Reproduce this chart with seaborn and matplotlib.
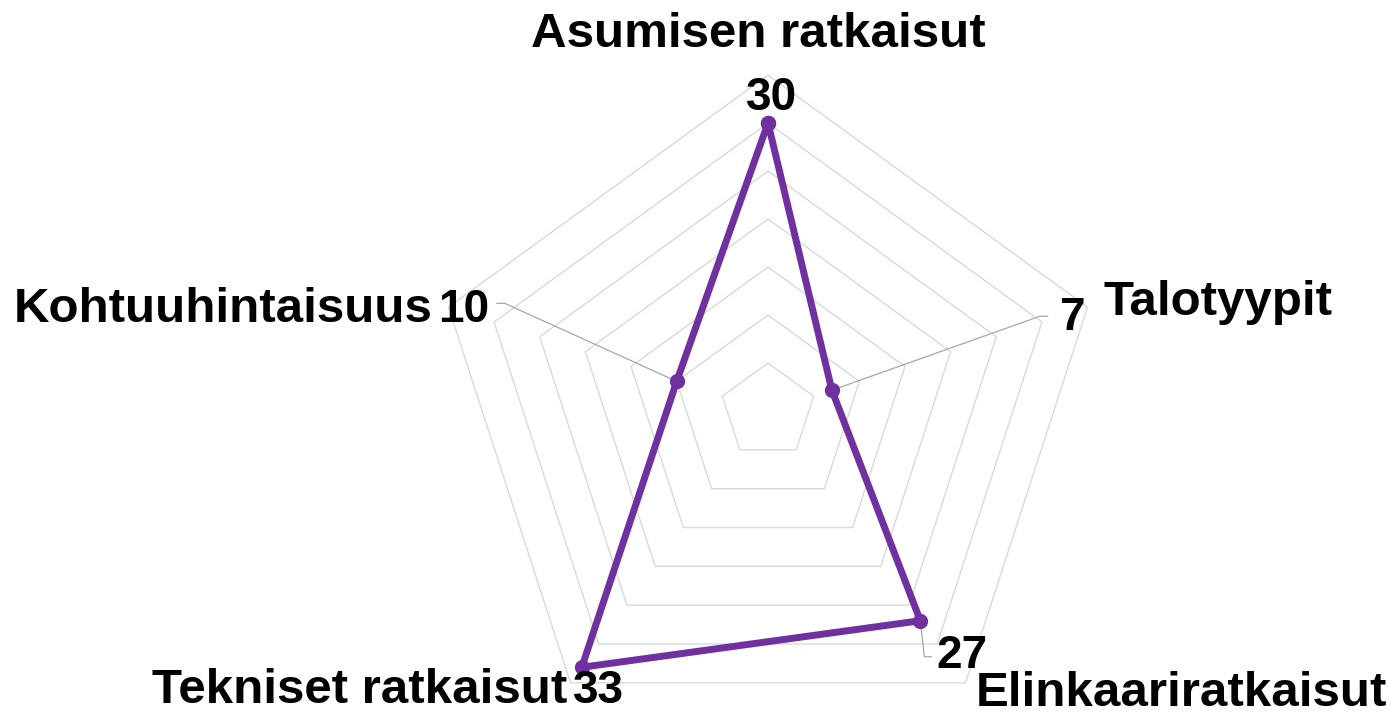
import numpy as np
import pandas as pd
import matplotlib
matplotlib.use("Agg")
import matplotlib.pyplot as plt
import seaborn as sns

# ---- data ----
categories = ["Asumisen ratkaisut", "Talotyypit", "Elinkaariratkaisut",
              "Tekniset ratkaisut", "Kohtuuhintaisuus"]
values = [30, 7, 27, 33, 10]
ring_levels = [5, 10, 15, 20, 25, 30, 35]

PURPLE = "#7030A0"
GRID = "#d9d9d9"
LEADER = "#a6a6a6"

sns.set_theme(style="white")
plt.rcParams["font.family"] = ["Liberation Sans", "DejaVu Sans"]

W, H = 1391, 714
fig = plt.figure(figsize=(W / 100, H / 100), dpi=100)
ax = fig.add_axes([0, 0, 1, 1])

# layout: centre pixel and pixels per unit
CX, CY, PPU = 768, 411, 9.6
ax.set_xlim(-CX / PPU, (W - CX) / PPU)
ax.set_ylim((CY - H) / PPU, CY / PPU)
ax.set_axis_off()

n = len(categories)
theta = 2 * np.pi * np.arange(n) / n


def polar_xy(r, i):
    return r * np.sin(theta[i]), r * np.cos(theta[i])


# pentagon grid
for lv in ring_levels:
    pts = [polar_xy(lv, i) for i in list(range(n)) + [0]]
    ax.plot([p[0] for p in pts], [p[1] for p in pts], color=GRID, lw=1.0, zorder=1)

# data series
idx = list(range(n)) + [0]
df = pd.DataFrame({
    "x": [polar_xy(values[i], i)[0] for i in idx],
    "y": [polar_xy(values[i], i)[1] for i in idx],
})
sns.lineplot(data=df, x="x", y="y", sort=False, estimator=None, ax=ax,
             color=PURPLE, lw=5, marker="o", markersize=11,
             markeredgewidth=0, zorder=3)
ax.set_xlim(-CX / PPU, (W - CX) / PPU)
ax.set_ylim((CY - H) / PPU, CY / PPU)


def px(xp, yp):
    return (xp - CX) / PPU, (CY - yp) / PPU


# leader lines (offsets in pixels from data point: elbow, end)
leaders = {1: [(208, -74), (216, -74)],
           2: [(4, 36), (11, 36)],
           4: [(-172, -78), (-180, -78)]}
for i, offs in leaders.items():
    x0, y0 = polar_xy(values[i], i)
    xs = [x0] + [x0 + dx / PPU for dx, dy in offs]
    ys = [y0] + [y0 - dy / PPU for dx, dy in offs]
    ax.plot(xs, ys, color=LEADER, lw=0.9, zorder=2)

FS_CAT = 35.5
FS_VAL = 33
bold = dict(fontweight="bold", color="black")

# category labels: (x px, baseline px, ha)
cat_pos = [(758, 47, "center"), (1103, 315, "left"), (976, 706, "left"),
           (567, 703, "right"), (14, 322, "left")]
for c, (xp, yp, ha) in zip(categories, cat_pos):
    ax.text(*px(xp, yp), c, ha=ha, va="baseline", fontsize=FS_CAT, **bold)

# value labels
val_pos = [(772, 110, "center"), (1060, 330, "left"), (936, 668, "left"),
           (573, 703, "left"), (489, 322, "right")]
for v, (xp, yp, ha) in zip(values, val_pos):
    ax.text(*px(xp, yp), str(v), ha=ha, va="baseline", fontsize=FS_VAL, **bold)

fig.savefig("out.png", dpi=100, facecolor="white")
